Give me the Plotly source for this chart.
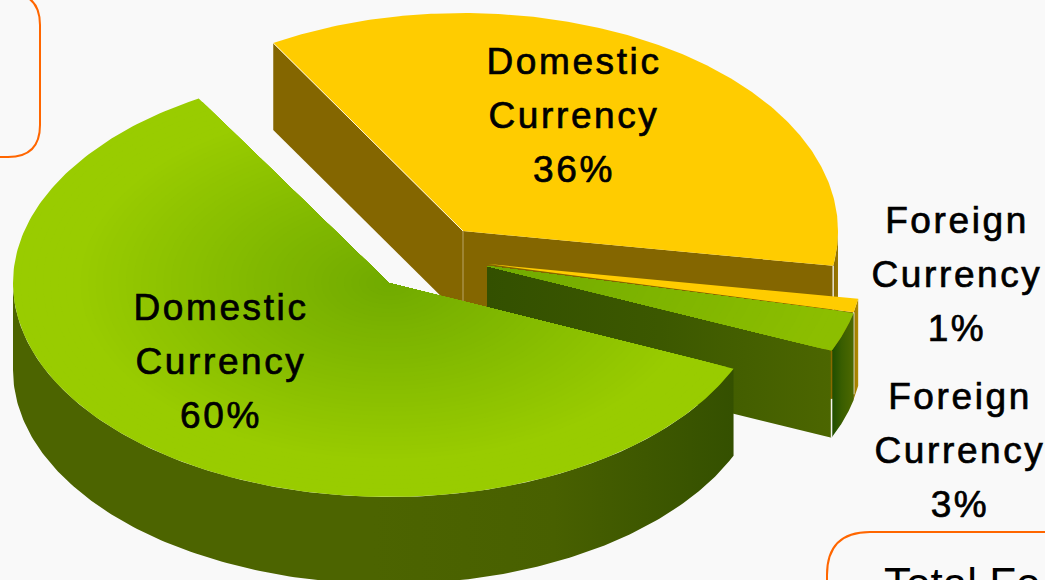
import numpy as np
import plotly.graph_objects as go

# Shares of each slice, in drawing order (back to front)
slice_names = ["Domestic Currency", "Foreign Currency", "Foreign Currency", "Domestic Currency"]
slice_shares = [36, 1, 3, 60]

WIDTH, HEIGHT = 1045, 580
START_ANGLE = 239.6   # clockwise on screen, from the positive x direction
DEPTH = 87            # thickness of the extruded pie

# Exploded slice geometry: centre x, centre y, x radius, y radius
geometry = [
    (463, 231, 375, 218),
    (488, 264, 375, 218),
    (487, 266, 376, 212),
    (389, 283, 376, 214),
]

# Label placement: centre x and the y of each of the three text lines
label_spots = [
    (574, (65, 119, 173)),
    (957, (224, 278, 332)),
    (960, (400, 454, 508)),
    (221, (311, 365, 419)),
]

BROWN = "#846600"
OLIVE = "#4c6400"

sweeps = np.array(slice_shares) * 3.6
bounds = START_ANGLE + np.concatenate([[0], np.cumsum(sweeps)])

fig = go.Figure()


def point(geo, angle, scale=1.0):
    cx, cy, a, b = geo
    t = np.radians(angle)
    return cx + scale * a * np.cos(t), cy + scale * b * np.sin(t)


def polygon(xs, ys, color=None, gradient=None):
    fig.add_trace(go.Scatter(
        x=list(xs), y=list(ys), mode="lines", fill="toself",
        line=dict(width=0), fillcolor=color, fillgradient=gradient,
        hoverinfo="skip", showlegend=False,
    ))


def ramp(colors, start, stop, kind="horizontal"):
    steps = np.linspace(0, 1, len(colors))
    return dict(type=kind, start=start, stop=stop,
                colorscale=[[float(s), c] for s, c in zip(steps, colors)])


def top_face(geo, a0, a1, color=None):
    t = np.linspace(a0, a1, 240)
    px, py = point(geo, t)
    polygon([geo[0], *px, geo[0]], [geo[1], *py, geo[1]], color)


def radial_wall(geo, angle, color=None, gradient=None):
    ex, ey = point(geo, angle)
    polygon([geo[0], ex, ex, geo[0], geo[0]],
            [geo[1], ey, ey + DEPTH, geo[1] + DEPTH, geo[1]], color, gradient)


def rim(geo, a0, a1, color=None, gradient=None):
    t = np.linspace(a0, a1, 200)
    px, py = point(geo, t)
    polygon([*px, *px[::-1], px[0]], [*py, *(py[::-1] + DEPTH), py[0]], color, gradient)


def shaded_top(geo, a0, a1, inner, outer, reach):
    # Radial shading around the slice tip, built from nested copies of the sector
    inner_rgb, outer_rgb = np.array(inner), np.array(outer)
    t = np.linspace(a0, a1, 240)
    for scale in np.linspace(1, 0.02, 50):
        mix = min(scale / reach, 1.0)
        r, g, b = inner_rgb + (outer_rgb - inner_rgb) * mix
        px, py = point(geo, t, scale)
        polygon([geo[0], *px, geo[0]], [geo[1], *py, geo[1]],
                f"rgb({r:.0f},{g:.0f},{b:.0f})")


def edge(x0, y0, x1, y1, color, width=1):
    fig.add_trace(go.Scatter(
        x=[x0, x1], y=[y0, y1], mode="lines", line=dict(color=color, width=width),
        hoverinfo="skip", showlegend=False,
    ))


# Large yellow slice
g = geometry[0]
radial_wall(g, bounds[0], BROWN)
rim(g, 360, bounds[1], gradient=ramp(["#846600", "#a07c00"], 832, 839))
radial_wall(g, bounds[1], BROWN)
sx, sy = point(g, bounds[1])
edge(g[0], g[1], g[0], g[1] + DEPTH, "#b8a468")
edge(sx, sy, sx, sy + DEPTH, "#e8e2d0", 1.5)
top_face(g, bounds[0], bounds[1], "#ffcc00")
lx, ly = point(g, bounds[0])
edge(lx, ly, g[0], g[1], "#fff6d8")

# Thin yellow slice
g = geometry[1]
rim(g, bounds[1], bounds[2], gradient=ramp(["#846600", "#b08a00"], 850, 858))
radial_wall(g, bounds[2], BROWN)
ex, ey = point(g, bounds[2])
edge(ex, ey, ex, ey + DEPTH - 5, "#f4f4f0", 1.5)
top_face(g, bounds[1], bounds[2], "#ffcc00")

# Small green slice
g = geometry[2]
rim(g, bounds[2], bounds[3], gradient=ramp(["#1c4c00", "#3a5e00", "#4c6800"], 831, 853))
radial_wall(g, bounds[3], gradient=ramp(["#335000", "#3c5800", "#4c6600"], g[0], 832))
cx3, cy3 = point(g, bounds[3])
edge(cx3, cy3 + DEPTH * 0.55, cx3, cy3 + DEPTH, "#f4f4f0", 1.5)
edge(cx3, cy3, cx3, cy3 + DEPTH * 0.55, "#8a6a00", 1.5)
shaded_top(g, bounds[2], bounds[3], (112, 170, 0), (140, 190, 0), 0.95)

# Large green slice
g = geometry[3]
rim(g, bounds[3], 540, gradient=ramp([OLIVE, OLIVE, OLIVE, "#486000", "#345000"], 13, 735))
shaded_top(g, bounds[3], bounds[4], (112, 170, 0), (153, 204, 0), 0.85)

# Slice labels, one text point per line
for name, share, (lx, ys) in zip(slice_names, slice_shares, label_spots):
    lines = [*name.split(" "), f"{share}%"]
    fig.add_trace(go.Scatter(
        x=[lx] * 3, y=list(ys), mode="text", text=lines,
        textposition="middle center", cliponaxis=False,
        textfont=dict(family="Liberation Sans", size=37, color="#000000"),
        hoverinfo="skip", showlegend=False,
    ))

# Neighbouring rounded panels around the pie
panel_shapes = [
    dict(type="path", layer="below",
         path="M -20 157 L 8 157 Q 40 157 40 125 L 40 25 Q 40 -7 8 -7 L -20 -7",
         line=dict(color="#ff6600", width=2)),
    dict(type="path", layer="below",
         path="M 1060 532 L 870 532 Q 827 532 827 575 L 827 620",
         line=dict(color="#ff6600", width=2)),
]

fig.update_layout(
    width=WIDTH, height=HEIGHT, margin=dict(l=0, r=0, t=0, b=0),
    paper_bgcolor="#f9f9f9", plot_bgcolor="#f9f9f9",
    xaxis=dict(range=[0, WIDTH], visible=False, fixedrange=True),
    yaxis=dict(range=[HEIGHT, 0], visible=False, fixedrange=True),
    shapes=panel_shapes,
    annotations=[dict(
        x=883, y=558, xref="x", yref="y", text="Total Fo", showarrow=False,
        xanchor="left", yanchor="top", borderpad=0,
        font=dict(family="Liberation Sans", size=44, color="#000000"),
    )],
)

# Tracked-out, slightly heavier lettering for the slice labels
lettering = """
document.querySelectorAll('.textpoint text').forEach(function (t) {
    t.style.letterSpacing = '2.6px';
    t.style.stroke = '#000000';
    t.style.strokeWidth = '0.7px';
});
"""
fig.write_html("out.html", post_script=lettering, config={"displayModeBar": False})
